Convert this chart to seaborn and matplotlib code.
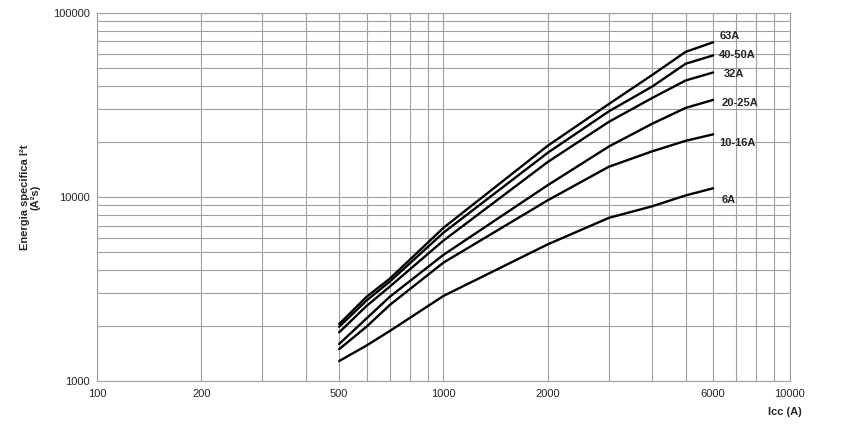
import numpy as np
import pandas as pd
import seaborn as sns
import matplotlib.pyplot as plt
from matplotlib.ticker import LogLocator, FixedLocator, FixedFormatter, NullFormatter

# prospective short-circuit current (A)
icc = [500, 600, 700, 1000, 2000, 3000, 4000, 5000, 6000]

# let-through energy I2t (A2s) per rating
e_63 = [2040, 2870, 3600, 6800, 19000, 32000, 46000, 61500, 69300]
e_40_50 = [1970, 2740, 3470, 6400, 17400, 29200, 39800, 53000, 58800]
e_32 = [1840, 2560, 3260, 5800, 15500, 25600, 34500, 43000, 47500]
e_20_25 = [1590, 2190, 2870, 4850, 11600, 18800, 25000, 30500, 33700]
e_10_16 = [1490, 1975, 2590, 4400, 9600, 14600, 17700, 20200, 21900]
e_6 = [1284, 1560, 1870, 2900, 5530, 7700, 8900, 10200, 11150]

curve_names = ["63A", "40-50A", "32A", "20-25A", "10-16A", "6A"]
curves = [e_63, e_40_50, e_32, e_20_25, e_10_16, e_6]

x_ticks = [100, 200, 500, 1000, 2000, 6000, 10000]
y_ticks = [1000, 10000, 100000]

df = pd.concat([pd.DataFrame({"Icc": icc, "I2t": c, "curve": n})
                for n, c in zip(curve_names, curves)])

sns.set_style("white")
plt.rcParams['font.family'] = ['Liberation Sans', 'DejaVu Sans']

fig = plt.figure(figsize=(8.42, 4.42), dpi=100)
ax = fig.add_axes([0.1152, 0.138, 0.823, 0.8326])

sns.lineplot(data=df, x="Icc", y="I2t", hue="curve", hue_order=curve_names,
             palette={n: "black" for n in curve_names}, linewidth=1.7,
             legend=False, ax=ax, sort=True)

ax.set_xscale("log")
ax.set_yscale("log")
ax.set_xlim(100, 10000)
ax.set_ylim(1000, 100000)

ax.xaxis.set_major_locator(FixedLocator(x_ticks))
ax.xaxis.set_major_formatter(FixedFormatter([str(t) for t in x_ticks]))
ax.xaxis.set_minor_locator(LogLocator(base=10, subs=np.arange(1, 10)))
ax.xaxis.set_minor_formatter(NullFormatter())
ax.yaxis.set_major_locator(FixedLocator(y_ticks))
ax.yaxis.set_major_formatter(FixedFormatter([str(t) for t in y_ticks]))
ax.yaxis.set_minor_locator(LogLocator(base=10, subs=np.arange(1, 10)))
ax.yaxis.set_minor_formatter(NullFormatter())

ax.grid(True, which="both", color="#a0a0a0", linewidth=0.8)
ax.tick_params(axis="x", which="both", length=0, labelsize=8, pad=6)
ax.tick_params(axis="y", which="major", length=3, color="#a0a0a0", labelsize=8, pad=2)
ax.tick_params(axis="y", which="minor", length=0)
for s in ax.spines.values():
    s.set_color("#a0a0a0")
    s.set_linewidth(0.8)

ax.set_xlabel("")
ax.set_ylabel("")
fig.text(0.932, 0.062, "Icc (A)", fontsize=8, fontweight="bold", ha="center")
fig.text(0.036, 0.554, "Energia specifica I²t\n(A²s)", fontsize=8, fontweight="bold",
         rotation=90, ha="center", va="center", linespacing=1.1)

label_y = [75000, 59100, 46500, 32400, 19600, 9640]
label_x = [6250, 6250, 6450, 6350, 6250, 6350]
for n, lx, ly in zip(curve_names, label_x, label_y):
    ax.text(lx, ly, n, fontsize=8, fontweight="bold", va="center", ha="left")

fig.savefig("out.png", dpi=100)
